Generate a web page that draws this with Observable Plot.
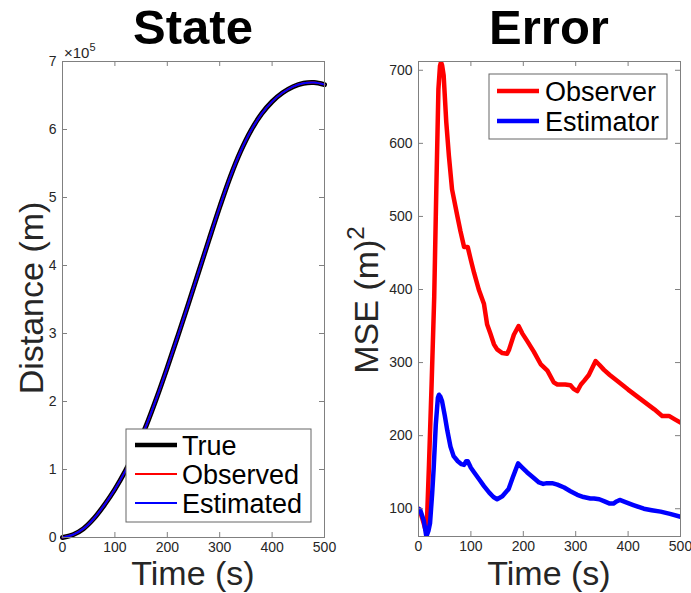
<!DOCTYPE html>
<html><head><meta charset="utf-8">
<script src="https://cdn.jsdelivr.net/npm/d3@7"></script>
<script src="https://cdn.jsdelivr.net/npm/@observablehq/plot@0.6"></script>
<style>
body{margin:0;background:#fff;font-family:"Liberation Sans",Arial,Helvetica,sans-serif;}
#fig{position:relative;width:691px;height:593px;overflow:hidden;background:#fff;}
#fig > svg{position:absolute;top:0;}
</style></head><body><div id="fig"></div>
<script>
// ---- data: State panel ----
const stateTime = [0,20,40,60,80,100,120,140,160,180,200,220,240,260,280,300,320,340,360,380,400,420,440,460,480,500];
const trueDist = [0,4000,13000,28000,48000,71000,98000,129000,165000,206000,250000,296000,343000,391000,439000,486000,530000,568000,599000,623000,641000,654000,663000,668000,669000,666000];
const observedDist = trueDist.slice();
const estimatedDist = trueDist.slice();
const stateXTicks = [0,100,200,300,400,500];
const stateYTicks = [0,100000,200000,300000,400000,500000,600000,700000];

// ---- data: Error panel ----
const observerTime = [0,5,10,13,16,20,25,30,34,38,41,43,45,48,53,58,64,74,80,87,94,100,106,115,125,131,137,144,150,160,169,173,182,191,198,207,220,233,246,258,265,280,290,296,303,310,316,325,338,345,354,365,379,400,424,450,465,478,490,500];
const observerMSE = [100,92,80,72,80,160,270,390,537,674,706,711,707,693,629,583,537,501,480,458,458,440,423,400,380,352,340,325,318,313,312,318,338,350,340,330,315,298,289,273,270,270,269,264,261,270,275,283,302,297,290,283,275,263,250,236,227,227,222,218];
const estimatorTime = [0,3,10,15,19,22,26,29,33,37,39,42,45,50,55,61,67,75,82,87,91,94,100,106,115,125,135,143,150,160,172,180,190,197,207,220,230,238,245,255,265,278,290,303,315,328,335,345,355,365,372,378,384,395,410,430,445,462,480,500];
const estimatorMSE = [100,99,84,62,70,80,120,156,215,252,256,253,247,228,207,185,172,165,161,160,165,165,156,150,141,131,122,116,113,117,127,143,162,157,150,142,136,134,135,135,133,129,124,119,116,114,114,113,110,107,107,110,112,109,105,100,98,96,93,89];
const errorXTicks = [0,100,200,300,400,500];
const errorYTicks = [100,200,300,400,500,600,700];

const FONT = '"Liberation Sans", Arial, Helvetica, sans-serif';
const AX = "#808080", TXT = "#262626";
const H = 593;

function boxTicks(xt, yt, ih, iw) {
  return [
    Plot.ruleX(xt, {x: d => d, insetTop: ih - 5, stroke: AX}),
    Plot.ruleX(xt, {x: d => d, insetBottom: ih - 5, stroke: AX}),
    Plot.ruleY(yt, {y: d => d, insetRight: iw - 5, stroke: AX}),
    Plot.ruleY(yt, {y: d => d, insetLeft: iw - 5, stroke: AX}),
    Plot.frame({stroke: AX})
  ];
}

// Left panel
const L = {w: 345, ml: 62, mr: 21, mt: 61, mb: 56};
const left = Plot.plot({
  width: L.w, height: H,
  marginLeft: L.ml, marginRight: L.mr, marginTop: L.mt, marginBottom: L.mb,
  x: {domain: [0, 500]},
  y: {domain: [0, 700000]},
  style: {fontFamily: FONT, fontSize: "14px", color: TXT, background: "transparent"},
  marks: [
    Plot.line(stateTime, {x: d => d, y: (d, i) => trueDist[i], stroke: "#000", strokeWidth: 5, curve: "catmull-rom"}),
    Plot.line(stateTime, {x: d => d, y: (d, i) => observedDist[i], stroke: "#ff0000", strokeWidth: 2, curve: "catmull-rom"}),
    Plot.line(stateTime, {x: d => d, y: (d, i) => estimatedDist[i], stroke: "#0000ff", strokeWidth: 2, curve: "catmull-rom"}),
    ...boxTicks(stateXTicks, stateYTicks, H - L.mt - L.mb, L.w - L.ml - L.mr),
    Plot.axisX({ticks: stateXTicks, tickSize: 0, tickPadding: 5, label: null, fontSize: 14, fill: TXT}),
    Plot.axisY({ticks: stateYTicks, tickSize: 0, tickPadding: 6, label: null, fontSize: 14, fill: TXT, tickFormat: d => d / 1e5})
  ]
});
left.style.left = "0px";

// Right panel
const R = {w: 346, ml: 73, mr: 11, mt: 61, mb: 57};
const right = Plot.plot({
  width: R.w, height: H,
  marginLeft: R.ml, marginRight: R.mr, marginTop: R.mt, marginBottom: R.mb,
  x: {domain: [0, 500]},
  y: {domain: [62, 712]},
  style: {fontFamily: FONT, fontSize: "14px", color: TXT, background: "transparent"},
  marks: [
    Plot.line(observerTime, {x: d => d, y: (d, i) => observerMSE[i], stroke: "#ff0000", strokeWidth: 4.5, clip: true, strokeLinejoin: "round"}),
    Plot.line(estimatorTime, {x: d => d, y: (d, i) => estimatorMSE[i], stroke: "#0000ff", strokeWidth: 4.5, clip: true, strokeLinejoin: "round"}),
    ...boxTicks(errorXTicks, errorYTicks, H - R.mt - R.mb, R.w - R.ml - R.mr),
    Plot.axisX({ticks: errorXTicks, tickSize: 0, tickPadding: 5, label: null, fontSize: 14, fill: TXT}),
    Plot.axisY({ticks: errorYTicks, tickSize: 0, tickPadding: 6, label: null, fontSize: 14, fill: TXT})
  ]
});
right.style.left = "345px";

const fig = document.getElementById("fig");
fig.appendChild(left);
fig.appendChild(right);

// Overlay: titles, axis labels, legends
const ov = d3.select(fig).append("svg").attr("width", 691).attr("height", H)
  .style("position", "absolute").style("left", "0px").style("top", "0px")
  .attr("font-family", FONT);

const lcx = L.ml + (L.w - L.ml - L.mr) / 2;
const rcx = 345 + R.ml + (R.w - R.ml - R.mr) / 2;

ov.append("text").attr("x", lcx).attr("y", 44).attr("text-anchor", "middle")
  .attr("font-size", 49).attr("font-weight", "bold").text("State");
ov.append("text").attr("x", rcx).attr("y", 44).attr("text-anchor", "middle")
  .attr("font-size", 49).attr("font-weight", "bold").text("Error");

ov.append("text").attr("x", lcx).attr("y", 585).attr("text-anchor", "middle")
  .attr("font-size", 34).attr("fill", TXT).text("Time (s)");
ov.append("text").attr("x", rcx).attr("y", 585).attr("text-anchor", "middle")
  .attr("font-size", 34).attr("fill", TXT).text("Time (s)");

ov.append("text").attr("transform", "translate(43,298) rotate(-90)").attr("text-anchor", "middle")
  .attr("font-size", 34).attr("fill", TXT).text("Distance (m)");
const mse = ov.append("text").attr("transform", "translate(378,300) rotate(-90)").attr("text-anchor", "middle")
  .attr("font-size", 34).attr("fill", TXT);
mse.append("tspan").text("MSE (m)");
mse.append("tspan").attr("dy", -14).attr("font-size", 24).text("2");

const ex = ov.append("text").attr("x", 64).attr("y", 58).attr("font-size", 15).attr("fill", TXT);
ex.append("tspan").text("×10");
ex.append("tspan").attr("dy", -7).attr("font-size", 11).text("5");

// Legend left
const stateLegend = [
  {label: "True", color: "#000", w: 4.5},
  {label: "Observed", color: "#ff0000", w: 2},
  {label: "Estimated", color: "#0000ff", w: 2}
];
ov.append("rect").attr("x", 126).attr("y", 429).attr("width", 185).attr("height", 93)
  .attr("fill", "#fff").attr("stroke", "#666");
stateLegend.forEach((d, i) => {
  const cy = 445 + i * 29;
  ov.append("line").attr("x1", 135).attr("x2", 177).attr("y1", cy).attr("y2", cy)
    .attr("stroke", d.color).attr("stroke-width", d.w);
  ov.append("text").attr("x", 182).attr("y", cy + 9.5).attr("font-size", 27).text(d.label);
});

// Legend right
const errorLegend = [
  {label: "Observer", color: "#ff0000"},
  {label: "Estimator", color: "#0000ff"}
];
ov.append("rect").attr("x", 489).attr("y", 74).attr("width", 178).attr("height", 65)
  .attr("fill", "#fff").attr("stroke", "#666");
errorLegend.forEach((d, i) => {
  const cy = 91 + i * 30;
  ov.append("line").attr("x1", 497).attr("x2", 539).attr("y1", cy).attr("y2", cy)
    .attr("stroke", d.color).attr("stroke-width", 4.5);
  ov.append("text").attr("x", 545).attr("y", cy + 9.5).attr("font-size", 27).text(d.label);
});
</script></body></html>
